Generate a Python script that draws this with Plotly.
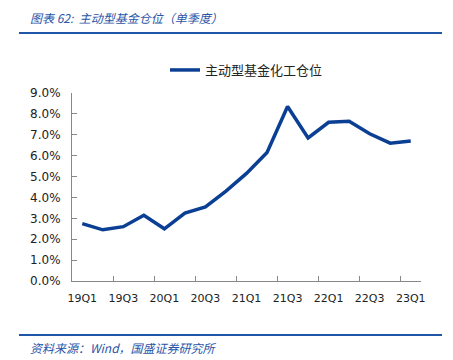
import plotly.graph_objects as go

quarters = ["19Q1", "19Q2", "19Q3", "19Q4", "20Q1", "20Q2", "20Q3", "20Q4",
            "21Q1", "21Q2", "21Q3", "21Q4", "22Q1", "22Q2", "22Q3", "22Q4", "23Q1"]
position = [0.0275, 0.0245, 0.026, 0.0315, 0.025, 0.0325, 0.0355, 0.043,
            0.0515, 0.0615, 0.0835, 0.0685, 0.076, 0.0765, 0.0705, 0.066, 0.067]
series_name = "主动型基金化工仓位"
title_text = "图表 62:  主动型基金仓位（单季度）"
source_text = "资料来源：Wind，国盛证券研究所"

W, H = 453, 360
L, R, T, B = 72, 32, 93, 79
pw, ph = W - L - R, H - T - B

def px_x(x):
    return (x - L) / pw

def px_y(y):
    return (H - B - y) / ph

blue = "#0b3f94"
cjk = "Noto Sans CJK SC"

fig = go.Figure()
fig.add_trace(go.Scatter(
    x=quarters, y=position, mode="lines", name=series_name,
    line=dict(color=blue, width=3.5),
))

fig.update_layout(
    width=W, height=H,
    margin=dict(l=L, r=R, t=T, b=B),
    paper_bgcolor="white", plot_bgcolor="white",
    showlegend=True,
    legend=dict(orientation="h", x=0.5, xanchor="center", y=px_y(70), yanchor="middle",
                font=dict(family=cjk, size=13, color="#222222"),
                bgcolor="rgba(0,0,0,0)"),
    xaxis=dict(type="category", tickmode="linear", dtick=2, tick0=0,
               tickson="boundaries", ticks="inside", ticklen=5, tickcolor="#888888",
               showline=True, linecolor="#888888", linewidth=1,
               showgrid=False, zeroline=False, tickangle=0, ticklabelstandoff=7,
               tickfont=dict(family="DejaVu Sans", size=11, color="#222222"),
               range=[-0.5, 16.5]),
    yaxis=dict(range=[0, 0.09], dtick=0.01, tickformat=".1%",
               ticks="inside", ticklen=5, tickcolor="#888888",
               showline=True, linecolor="#888888", linewidth=1,
               showgrid=False, zeroline=False, ticklabelstandoff=8,
               tickfont=dict(family="DejaVu Sans", size=12, color="#222222")),
    annotations=[
        dict(text="<i>" + title_text + "</i>", xref="paper", yref="paper",
             x=px_x(28), y=px_y(18), xanchor="left", yanchor="middle", showarrow=False,
             font=dict(family=cjk, size=12, color="#2a55a8")),
        dict(text="<i>" + source_text + "</i>", xref="paper", yref="paper",
             x=px_x(28), y=px_y(347), xanchor="left", yanchor="middle", showarrow=False,
             font=dict(family=cjk, size=12, color="#2a55a8")),
    ],
    shapes=[
        dict(type="line", xref="paper", yref="paper", x0=px_x(19), x1=px_x(442),
             y0=px_y(33), y1=px_y(33), line=dict(color="#1f56a8", width=2)),
        dict(type="line", xref="paper", yref="paper", x0=px_x(19), x1=px_x(442),
             y0=px_y(335), y1=px_y(335), line=dict(color="#1f56a8", width=2)),
    ],
)

fig.write_html("out.html", config={"displayModeBar": False},
               post_script="document.body.style.margin='0';document.body.style.overflow='hidden';")
